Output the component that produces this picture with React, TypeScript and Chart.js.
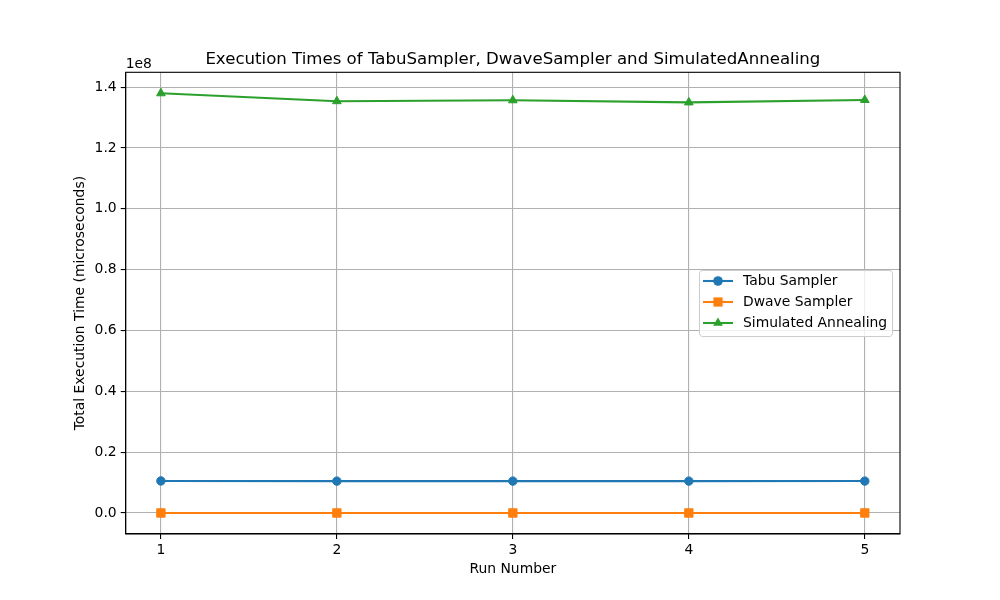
import React, { useEffect, useRef } from 'react';
import { Chart, registerables } from 'chart.js';

Chart.register(...registerables);

const runNumbers = [1, 2, 3, 4, 5];
const tabuTimes = [10550000, 10480000, 10490000, 10490000, 10500000];
const dwaveTimes = [15000, 15000, 15000, 15000, 15000];
const simulatedTimes = [138000000, 135400000, 135700000, 135000000, 135800000];
const yTickValues = [0, 20000000, 40000000, 60000000, 80000000, 100000000, 120000000, 140000000];
const xTickValues = [1, 2, 3, 4, 5];
const seriesNames = ['Tabu Sampler', 'Dwave Sampler', 'Simulated Annealing'];
const seriesColors = ['#1f77b4', '#ff7f0e', '#2ca02c'];
const seriesMarkers = ['circle', 'rect', 'triangle'];

const FONT = '"DejaVu Sans", sans-serif';
const TICK_FONT = 13.9;

function drawMarker(ctx: CanvasRenderingContext2D, kind: string, x: number, y: number, color: string) {
  ctx.save();
  ctx.fillStyle = color;
  ctx.beginPath();
  if (kind === 'circle') {
    ctx.arc(x, y, 4.8, 0, Math.PI * 2);
  } else if (kind === 'rect') {
    ctx.rect(x - 4.6, y - 4.6, 9.2, 9.2);
  } else {
    const r = 5.6;
    ctx.moveTo(x, y - r);
    ctx.lineTo(x + r * Math.sin((2 * Math.PI) / 3), y + r / 2);
    ctx.lineTo(x - r * Math.sin((2 * Math.PI) / 3), y + r / 2);
    ctx.closePath();
  }
  ctx.fill();
  ctx.restore();
}

export default function App() {
  const ref = useRef<HTMLCanvasElement>(null);

  useEffect(() => {
    const canvas = ref.current!;
    const overlay = {
      id: 'overlay',
      afterDraw(chart: any) {
        const ctx = chart.ctx as CanvasRenderingContext2D;
        const a = chart.chartArea;
        ctx.save();
        // frame
        ctx.strokeStyle = '#000';
        ctx.lineWidth = 1.1;
        ctx.strokeRect(a.left, a.top, a.right - a.left, a.bottom - a.top);
        // title
        ctx.fillStyle = '#000';
        ctx.textAlign = 'center';
        ctx.textBaseline = 'alphabetic';
        ctx.font = `16.6px ${FONT}`;
        ctx.fillText('Execution Times of TabuSampler, DwaveSampler and SimulatedAnnealing', (a.left + a.right) / 2, 64);
        // offset text
        ctx.font = `${TICK_FONT}px ${FONT}`;
        ctx.textAlign = 'left';
        ctx.fillText('1e8', a.left, 67.5);
        // x label
        ctx.textAlign = 'center';
        ctx.textBaseline = 'middle';
        ctx.fillText('Run Number', (a.left + a.right) / 2, 569);
        // y label
        ctx.save();
        ctx.translate(80, (a.top + a.bottom) / 2);
        ctx.rotate(-Math.PI / 2);
        ctx.fillText('Total Execution Time (microseconds)', 0, 0);
        ctx.restore();
        // legend
        const lx = 699.5, ly = 270.5, lw = 193, lh = 66;
        const rr = 3;
        ctx.beginPath();
        ctx.moveTo(lx + rr, ly);
        ctx.lineTo(lx + lw - rr, ly);
        ctx.quadraticCurveTo(lx + lw, ly, lx + lw, ly + rr);
        ctx.lineTo(lx + lw, ly + lh - rr);
        ctx.quadraticCurveTo(lx + lw, ly + lh, lx + lw - rr, ly + lh);
        ctx.lineTo(lx + rr, ly + lh);
        ctx.quadraticCurveTo(lx, ly + lh, lx, ly + lh - rr);
        ctx.lineTo(lx, ly + rr);
        ctx.quadraticCurveTo(lx, ly, lx + rr, ly);
        ctx.closePath();
        ctx.fillStyle = 'rgba(255,255,255,0.8)';
        ctx.fill();
        ctx.strokeStyle = '#cccccc';
        ctx.lineWidth = 1;
        ctx.stroke();
        const rows = [281, 302, 323];
        seriesNames.forEach((name, i) => {
          const y = rows[i];
          ctx.strokeStyle = seriesColors[i];
          ctx.lineWidth = 2.08;
          ctx.beginPath();
          ctx.moveTo(703, y);
          ctx.lineTo(733, y);
          ctx.stroke();
          drawMarker(ctx, seriesMarkers[i], 718, y, seriesColors[i]);
          ctx.fillStyle = '#000';
          ctx.textAlign = 'left';
          ctx.textBaseline = 'middle';
          ctx.font = `${TICK_FONT}px ${FONT}`;
          ctx.fillText(name, 743, y);
        });
        ctx.restore();
      },
    };

    const seriesData = [tabuTimes, dwaveTimes, simulatedTimes];
    const pointRadii = [4.2, 5.9, 5.0];

    const chart = new Chart(canvas, {
      type: 'line',
      data: {
        datasets: seriesNames.map((name, i) => ({
          label: name,
          data: runNumbers.map((r, j) => ({ x: r, y: seriesData[i][j] })),
          borderColor: seriesColors[i],
          backgroundColor: seriesColors[i],
          borderWidth: 2.08,
          pointStyle: seriesMarkers[i] as any,
          pointRadius: pointRadii[i],
          pointBorderWidth: 1,
          pointBorderColor: seriesColors[i],
          pointBackgroundColor: seriesColors[i],
          tension: 0,
          fill: false,
        })),
      },
      options: {
        responsive: false,
        animation: false,
        devicePixelRatio: 1,
        layout: { padding: { left: 0, top: 72.3, right: 100, bottom: 0 } },
        plugins: {
          legend: { display: false },
          title: { display: false },
          tooltip: { enabled: false },
        },
        scales: {
          x: {
            type: 'linear',
            min: 0.8,
            max: 5.2,
            afterFit: (s: any) => { s.height = 66; },
            afterBuildTicks: (s: any) => { s.ticks = xTickValues.map((v) => ({ value: v })); },
            grid: { color: '#b0b0b0', lineWidth: 1.1, drawTicks: true, tickLength: 5, tickColor: '#000', tickWidth: 1.1 } as any,
            border: { display: true, color: '#000', width: 1.1 },
            ticks: {
              color: '#000',
              font: { family: FONT, size: TICK_FONT },
              padding: 3,
              maxRotation: 0,
              callback: (v: any) => String(v),
            },
          },
          y: {
            type: 'linear',
            min: -6900000,
            max: 144900000,
            afterFit: (s: any) => { s.width = 125.7; },
            afterBuildTicks: (s: any) => { s.ticks = yTickValues.map((v) => ({ value: v })); },
            grid: { color: '#b0b0b0', lineWidth: 1.1, drawTicks: true, tickLength: 5, tickColor: '#000', tickWidth: 1.1 } as any,
            border: { display: true, color: '#000', width: 1.1 },
            ticks: {
              color: '#000',
              font: { family: FONT, size: TICK_FONT },
              padding: 4,
              callback: (v: any) => (Number(v) / 1e8).toFixed(1),
            },
          },
        },
      },
      plugins: [overlay],
    });
    return () => chart.destroy();
  }, []);

  return (
    <div style={{ position: 'fixed', left: 0, top: 0, width: 1000, height: 600, background: '#fff' }}>
      <canvas ref={ref} width={1000} height={600} style={{ display: 'block' }} />
    </div>
  );
}
